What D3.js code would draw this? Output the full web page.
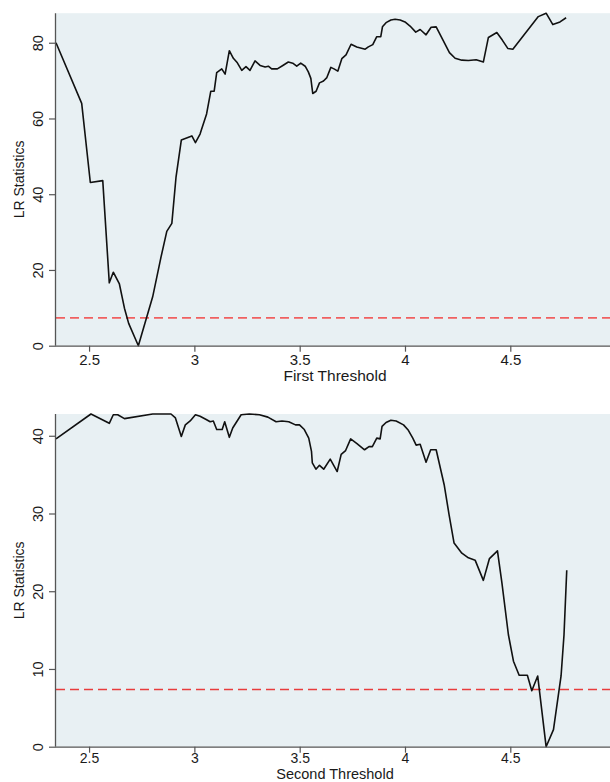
<!DOCTYPE html>
<html>
<head>
<meta charset="utf-8">
<script src="https://cdn.jsdelivr.net/npm/d3@7"></script>
<style>
  html, body { margin: 0; padding: 0; background: #ffffff; }
  svg { display: block; }
  text { font-family: "Liberation Sans", Arial, sans-serif; fill: #1a1a1a; }
</style>
</head>
<body>
<svg id="chart" width="610" height="782"></svg>
<script>
// Threshold grid (x) and likelihood-ratio statistics for the first threshold
const firstThreshold = [2.343, 2.465, 2.506, 2.565, 2.596, 2.615, 2.644, 2.668, 2.688, 2.734,
  2.802, 2.842, 2.869, 2.893, 2.913, 2.938, 2.988, 3.005, 3.027, 3.035, 3.058, 3.078, 3.094,
  3.106, 3.130, 3.146, 3.166, 3.185, 3.204, 3.225, 3.245, 3.264, 3.288, 3.312, 3.336, 3.351,
  3.367, 3.394, 3.420, 3.446, 3.467, 3.486, 3.505, 3.526, 3.541, 3.553, 3.562, 3.578, 3.594,
  3.613, 3.629, 3.648, 3.663, 3.681, 3.700, 3.720, 3.744, 3.771, 3.811, 3.826, 3.847, 3.866,
  3.885, 3.893, 3.910, 3.933, 3.953, 3.977, 4.000, 4.024, 4.051, 4.072, 4.100, 4.124, 4.148,
  4.211, 4.238, 4.270, 4.301, 4.338, 4.372, 4.396, 4.436, 4.462, 4.488, 4.512, 4.633, 4.670,
  4.702, 4.736, 4.765];
const firstLR = [80.0, 64.0, 43.1, 43.6, 16.6, 19.4, 16.3, 9.9, 5.9, 0.0,
  12.9, 23.5, 30.2, 32.3, 44.6, 54.3, 55.4, 53.6, 55.9, 57.3, 61.2, 67.2, 67.2,
  72.1, 73.1, 71.7, 77.9, 75.9, 74.7, 72.7, 73.7, 72.7, 75.2, 74.0, 73.6, 73.8,
  73.1, 73.1, 74.0, 74.9, 74.6, 73.8, 74.6, 73.8, 72.3, 70.6, 66.6, 67.2, 69.4,
  69.9, 70.8, 73.5, 73.1, 72.5, 75.8, 76.8, 79.6, 78.9, 78.3, 78.9, 79.5, 81.6,
  81.6, 84.2, 85.3, 86.0, 86.2, 86.0, 85.5, 84.4, 82.8, 83.5, 82.1, 84.1, 84.2,
  77.4, 75.9, 75.4, 75.3, 75.5, 74.9, 81.4, 82.7, 80.7, 78.5, 78.3, 86.9, 87.8,
  84.8, 85.5, 86.6];

// Threshold grid (x) and likelihood-ratio statistics for the second threshold
const secondThreshold = [2.343, 2.509, 2.596, 2.615, 2.636, 2.668, 2.802, 2.889, 2.910, 2.938,
  2.957, 2.980, 3.005, 3.027, 3.056, 3.075, 3.090, 3.106, 3.132, 3.144, 3.166, 3.182, 3.222,
  3.261, 3.309, 3.349, 3.388, 3.416, 3.448, 3.480, 3.499, 3.522, 3.543, 3.556, 3.560, 3.577,
  3.594, 3.614, 3.645, 3.678, 3.697, 3.718, 3.742, 3.772, 3.808, 3.829, 3.845, 3.866, 3.882,
  3.891, 3.910, 3.933, 3.958, 3.993, 4.016, 4.037, 4.053, 4.072, 4.100, 4.122, 4.148, 4.186,
  4.209, 4.233, 4.270, 4.301, 4.333, 4.372, 4.401, 4.439, 4.460, 4.491, 4.515, 4.542, 4.581,
  4.602, 4.630, 4.670, 4.705, 4.741, 4.755, 4.768];
const secondLR = [39.6, 42.8, 41.6, 42.7, 42.7, 42.2, 42.8, 42.8, 42.3, 39.9,
  41.4, 41.9, 42.7, 42.5, 42.1, 41.8, 41.9, 40.8, 40.8, 41.8, 39.8, 41.0, 42.7,
  42.8, 42.7, 42.4, 41.8, 41.9, 41.8, 41.4, 41.4, 40.8, 39.7, 38.0, 36.5, 35.7,
  36.2, 35.7, 37.0, 35.4, 37.6, 38.1, 39.6, 39.0, 38.2, 38.6, 38.6, 39.7, 39.6,
  41.2, 41.7, 42.0, 41.9, 41.4, 40.7, 39.7, 38.8, 38.9, 36.6, 38.2, 38.2, 33.7,
  29.9, 26.2, 24.9, 24.3, 24.0, 21.4, 24.2, 25.2, 21.1, 14.4, 11.0, 9.2, 9.2,
  7.2, 9.1, 0.0, 2.2, 9.1, 14.4, 22.7];

// 95% critical value of the LR statistic
const criticalValue = 7.35;

const xTicks = [2.5, 3, 3.5, 4, 4.5];
const firstYTicks = [0, 20, 40, 60, 80];
const secondYTicks = [0, 10, 20, 30, 40];

const svg = d3.select("#chart");

function drawPanel(cfg) {
  const { xs, ys, yMax, yTicks, top, bottom, title, titleGap, titleSize,
          tickFont, tickPad, critColor } = cfg;
  const left = 56, right = 611.4;

  const x = d3.scaleLinear().domain([2.343, 4.98]).range([left, right]);
  const y = d3.scaleLinear().domain([0, yMax]).range([bottom, top]);

  const g = svg.append("g");

  // plot region
  g.append("rect")
    .attr("x", left).attr("y", top)
    .attr("width", 610 - left).attr("height", bottom - top)
    .attr("fill", "#e8f0f3");

  // critical value reference line
  g.append("line")
    .attr("x1", left).attr("x2", 610)
    .attr("y1", y(criticalValue)).attr("y2", y(criticalValue))
    .attr("stroke", critColor).attr("stroke-width", 1.6)
    .attr("stroke-dasharray", "9,5");

  // LR statistic curve
  const pts = xs.map((v, i) => [v, ys[i]]);
  g.append("path")
    .datum(pts)
    .attr("fill", "none")
    .attr("stroke", "#111")
    .attr("stroke-width", 1.6)
    .attr("stroke-linejoin", "round")
    .attr("d", d3.line().x(d => x(d[0])).y(d => y(d[1])));

  // x axis
  const xAxis = g.append("g")
    .attr("transform", `translate(0,${bottom})`)
    .call(d3.axisBottom(x).tickValues(xTicks).tickFormat(d3.format(""))
      .tickSizeOuter(0).tickSize(6).tickPadding(tickPad));
  xAxis.select(".domain").attr("stroke", "#555").attr("stroke-width", 1.3)
    .attr("d", `M${left},0.5H610`);
  xAxis.selectAll(".tick line").attr("stroke", "#555").attr("stroke-width", 1.2);
  xAxis.selectAll(".tick text")
    .attr("font-size", tickFont).attr("fill", "#1a1a1a")
    .attr("font-family", "Liberation Sans, Arial, sans-serif");

  // y axis
  const yAxis = g.append("g")
    .attr("transform", `translate(${left},0)`)
    .call(d3.axisLeft(y).tickValues(yTicks).tickSizeOuter(0).tickSize(7));
  yAxis.select(".domain").attr("stroke", "#555").attr("stroke-width", 1.3)
    .attr("d", `M-0.5,${top}V${bottom}`);
  yAxis.selectAll(".tick line").attr("stroke", "#555").attr("stroke-width", 1.2);
  yAxis.selectAll(".tick text")
    .attr("font-size", 14.5).attr("fill", "#1a1a1a")
    .attr("font-family", "Liberation Sans, Arial, sans-serif")
    .attr("x", null).attr("dy", null)
    .attr("text-anchor", "middle")
    .attr("transform", "translate(-13,0) rotate(-90)");

  // axis titles
  g.append("text")
    .attr("x", 335).attr("y", bottom + titleGap)
    .attr("text-anchor", "middle")
    .attr("font-size", titleSize)
    .text(title);

  g.append("text")
    .attr("transform", `translate(24,${(top + bottom) / 2}) rotate(-90)`)
    .attr("text-anchor", "middle")
    .attr("font-size", 14)
    .text("LR Statistics");
}

drawPanel({
  xs: firstThreshold, ys: firstLR, yMax: 87.8, yTicks: firstYTicks,
  top: 13.2, bottom: 345.7, title: "First Threshold", titleGap: 35, titleSize: 15.5,
  tickFont: 15, tickPad: 3, critColor: "#f06060"
});

drawPanel({
  xs: secondThreshold, ys: secondLR, yMax: 42.8, yTicks: secondYTicks,
  top: 414, bottom: 746.7, title: "Second Threshold", titleGap: 32.3, titleSize: 14.5,
  tickFont: 14, tickPad: 0, critColor: "#e83c3c"
});
</script>
</body>
</html>
